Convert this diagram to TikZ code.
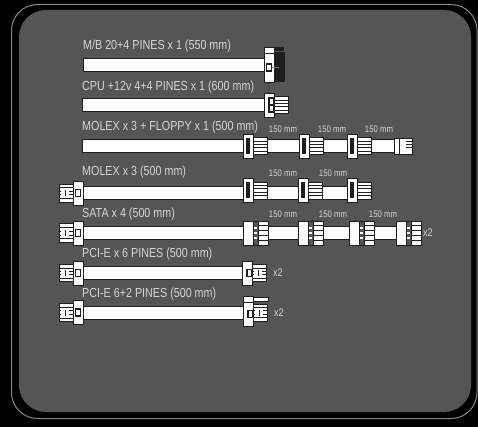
\documentclass[tikz,border=0pt]{standalone}
\usepackage{fontspec}
\setmainfont[FakeStretch=0.82]{Liberation Sans}
\usetikzlibrary{positioning, calc}

\definecolor{panelgrey}{HTML}{555555}
\definecolor{rimgrey}{HTML}{858585}
\definecolor{inkdark}{HTML}{1E1E1E}
\definecolor{labelgrey}{HTML}{D6D6D6}

% stripes of a pin block, used inside its path picture
\newcommand{\pinstripes}{
    \foreach \k in {0.2,0.4,0.6,0.8}
        \draw[inkdark, line width=0.7pt]
            ($(path picture bounding box.south west)!\k!(path picture bounding box.north west)$) --
            ($(path picture bounding box.south east)!\k!(path picture bounding box.north east)$);
}

\begin{document}
\begin{tikzpicture}[
        x=1pt, y=-1pt,
        part/.style={
            rectangle,
            draw=inkdark,
            fill=white,
            line width=0.8pt,
            inner sep=0pt,
            outer sep=0pt
        },
        cable/.style={part, minimum height=13pt},
        shell/.style={part, minimum width=10pt, minimum height=24pt},
        slotshell/.style={shell,
            path picture={
                \fill[inkdark] ($(path picture bounding box.center)+(-2pt,-8pt)$) rectangle ($(path picture bounding box.center)+(2pt,8pt)$);
            }
        },
        pinblock/.style={part, minimum width=14pt, minimum height=17pt,
            path picture={\pinstripes}
        },
        plugblock/.style={part, minimum width=14pt, minimum height=17pt,
            path picture={
                \pinstripes
                \fill[white] ($(path picture bounding box.center)+(-5pt,-3pt)$) rectangle ($(path picture bounding box.center)+(3pt,3pt)$);
                \draw[inkdark, line width=0.8pt] ($(path picture bounding box.center)+(-1pt,-3pt)$) -- ($(path picture bounding box.center)+(-1pt,3pt)$);
            }
        },
        satablock/.style={part, fill=white, minimum width=15pt, minimum height=24pt,
            path picture={
                \fill[panelgrey] ($(path picture bounding box.north west)$) rectangle ($(path picture bounding box.south west)+(5pt,0)$);
                \foreach \k in {0.2,0.4,0.6,0.8}
                    \draw[inkdark, line width=0.7pt]
                        ($(path picture bounding box.south west)!\k!(path picture bounding box.north west)+(5pt,0)$) --
                        ($(path picture bounding box.south east)!\k!(path picture bounding box.north east)$);
                \foreach \k in {0.3,0.5,0.7}
                    \draw[white, line width=1.8pt]
                        ($(path picture bounding box.south west)!\k!(path picture bounding box.north west)+(1pt,0)$) --
                        ($(path picture bounding box.south west)!\k!(path picture bounding box.north west)+(4pt,0)$);
                \draw[inkdark, line width=0.8pt] ($(path picture bounding box.north west)+(5pt,0)$) -- ($(path picture bounding box.south west)+(5pt,0)$);
            }
        },
        notch/.style={part, minimum width=5pt, minimum height=7pt, line width=1.1pt},
        blackpart/.style={rectangle, fill=inkdark, inner sep=0pt, outer sep=0pt},
        titlelabel/.style={anchor=west, inner sep=0pt, font=\fontsize{13.1}{14}\selectfont, text=labelgrey},
        lenlabel/.style={inner sep=0pt, font=\fontsize{9.5}{10}\selectfont, text=labelgrey},
        countlabel/.style={anchor=west, inner sep=0pt, font=\fontsize{11}{12}\selectfont, text=labelgrey}
    ]

    % Frame
    \useasboundingbox (0,0) rectangle (478,427);
    \fill[black] (0,0) rectangle (478,427);
    \draw[rimgrey, line width=1pt, rounded corners=26pt] (11.5,4.5) rectangle (477,418.5);
    \fill[panelgrey, rounded corners=27pt] (19,10) rectangle (471,412);

    % M/B
    \node[titlelabel] (mblabel) at (83,46) {M/B 20+4 PINES x 1 (550 mm)};
    \node[cable, anchor=west, minimum width=181pt] (mbcable) at (83,64.5) {};
    \node[blackpart, minimum width=11pt, minimum height=30pt, right=10pt of mbcable, yshift=-3pt] (mbblock) {};
    \node[shell, minimum height=29pt, right=0pt of mbcable, yshift=-3pt] (mbshell) {};
    \node[part, minimum width=10pt, minimum height=6pt, above=0pt of mbshell] (mblatch) {};
    \node[blackpart, minimum width=10pt, minimum height=4pt, right=0pt of mblatch, yshift=1pt] (mbtab) {};
    \node[notch, at={(mbshell.center)}] (mbnotch) {};
    \draw[rimgrey, line width=0.8pt] (mbnotch.east) -- ++(7,0) coordinate (mbdash);

    % CPU
    \node[titlelabel] (cpulabel) at (82,87) {CPU +12v 4+4 PINES x 1 (600 mm)};
    \node[cable, anchor=west, minimum width=182pt] (cpucable) at (82,105) {};
    \node[shell, right=0pt of cpucable] (cpushell) {};
    \node[pinblock, right=0pt of cpushell] (cpupins) {};
    \node[notch, at={(cpushell.east)}, xshift=-2.5pt, yshift=3.5pt] (cpunotcha) {};
    \node[notch, at={(cpushell.east)}, xshift=-2.5pt, yshift=-3.5pt] (cpunotchb) {};

    % MOLEX + FLOPPY
    \node[titlelabel] (mxflabel) at (82,127) {MOLEX x 3 + FLOPPY x 1 (500 mm)};
    \node[cable, anchor=west, minimum width=161pt] (mxfcable) at (82,146) {};
    \node[slotshell, right=0pt of mxfcable] (mxfa) {};
    \node[pinblock, right=0pt of mxfa] (mxfpinsa) {};
    \node[cable, minimum width=32pt, right=0pt of mxfpinsa] (mxfcableb) {};
    \node[slotshell, right=0pt of mxfcableb] (mxfb) {};
    \node[pinblock, right=0pt of mxfb] (mxfpinsb) {};
    \node[cable, minimum width=24pt, right=0pt of mxfpinsb] (mxfcablec) {};
    \node[slotshell, right=0pt of mxfcablec] (mxfc) {};
    \node[pinblock, right=0pt of mxfc] (mxfpinsc) {};
    \node[cable, minimum width=23pt, right=0pt of mxfpinsc] (mxfcabled) {};
    \node[part, minimum width=5pt, minimum height=16pt, right=0pt of mxfcabled] (floppyshell) {};
    \node[part, minimum width=13pt, minimum height=16pt, right=0pt of floppyshell] (floppypins) {};
    \foreach \k in {-5,-2,1}
        \draw[inkdark, line width=0.9pt] ($(floppypins.center)+(0,\k)$) -- ($(floppypins.east)+(0,\k)$);
    \node[lenlabel] (mxflena) at (283,129) {150 mm};
    \node[lenlabel] (mxflenb) at (332,129) {150 mm};
    \node[lenlabel] (mxflenc) at (379,129) {150 mm};

    % MOLEX
    \node[titlelabel] (mxlabel) at (82,172) {MOLEX x 3 (500 mm)};
    \node[plugblock, minimum height=18pt, anchor=west] (mxpinsl) at (59,193) {};
    \node[shell, right=0pt of mxpinsl] (mxshelll) {};
    \node[notch, at={(mxshelll.center)}] (mxnotch) {};
    \node[cable, minimum width=160pt, right=0pt of mxshelll] (mxcable) {};
    \node[slotshell, right=0pt of mxcable, yshift=2.5pt] (mxa) {};
    \node[pinblock, right=0pt of mxa] (mxpinsa) {};
    \node[cable, minimum width=31pt, right=0pt of mxpinsa, yshift=-2.5pt] (mxcableb) {};
    \node[slotshell, right=0pt of mxcableb, yshift=2.5pt] (mxb) {};
    \node[pinblock, right=0pt of mxb] (mxpinsb) {};
    \node[cable, minimum width=25pt, right=0pt of mxpinsb, yshift=-2.5pt] (mxcablec) {};
    \node[slotshell, right=0pt of mxcablec, yshift=2.5pt] (mxc) {};
    \node[pinblock, right=0pt of mxc] (mxpinsc) {};
    \node[lenlabel] (mxlena) at (283,173) {150 mm};
    \node[lenlabel] (mxlenb) at (333,173) {150 mm};

    % SATA
    \node[titlelabel] (satalabel) at (82,214) {SATA x 4 (500 mm)};
    \node[plugblock, minimum height=19pt, anchor=west] (satapinsl) at (59,233) {};
    \node[shell, right=0pt of satapinsl] (satashelll) {};
    \node[notch, at={(satashelll.center)}] (satanotch) {};
    \node[cable, minimum width=160pt, right=0pt of satashelll] (satacable) {};
    \node[shell, right=0pt of satacable] (sataa) {};
    \node[satablock, right=0pt of sataa] (satapa) {};
    \node[cable, minimum width=30pt, right=0pt of satapa] (satacableb) {};
    \node[shell, right=0pt of satacableb] (satab) {};
    \node[satablock, right=0pt of satab] (satapb) {};
    \node[cable, minimum width=26pt, right=0pt of satapb] (satacablec) {};
    \node[shell, right=0pt of satacablec] (satac) {};
    \node[satablock, right=0pt of satac] (satapc) {};
    \node[cable, minimum width=22pt, right=0pt of satapc] (satacabled) {};
    \node[shell, right=0pt of satacabled] (satad) {};
    \node[satablock, right=0pt of satad] (satapd) {};
    \node[countlabel, right=2pt of satapd] (satacount) {x2};
    \node[lenlabel] (satalena) at (283,214) {150 mm};
    \node[lenlabel] (satalenb) at (333,214) {150 mm};
    \node[lenlabel] (satalenc) at (383,214) {150 mm};

    % PCI-E 6
    \node[titlelabel] (pcilabel) at (82,254) {PCI-E x 6 PINES (500 mm)};
    \node[plugblock, anchor=west] (pcipinsl) at (59,273) {};
    \node[shell, right=0pt of pcipinsl] (pcishelll) {};
    \node[notch, at={(pcishelll.center)}] (pcinotchl) {};
    \node[cable, minimum width=159pt, right=0pt of pcishelll] (pcicable) {};
    \node[shell, right=0pt of pcicable] (pcishellr) {};
    \node[plugblock, right=0pt of pcishellr] (pcipinsr) {};
    \node[notch, at={(pcishellr.east)}, xshift=-2.5pt] (pcinotchr) {};
    \node[countlabel, right=7pt of pcipinsr] (pcicount) {x2};

    % PCI-E 6+2
    \node[titlelabel] (pcpluslabel) at (82,294) {PCI-E 6+2 PINES (500 mm)};
    \node[plugblock, minimum height=18pt, anchor=west] (pcppinsl) at (59,312.5) {};
    \node[shell, right=0pt of pcppinsl] (pcpshelll) {};
    \node[notch, at={(pcpshelll.center)}] (pcpnotchl) {};
    \node[cable, minimum width=160pt, right=0pt of pcpshelll] (pcpcable) {};
    \node[shell, right=0pt of pcpcable, yshift=-1.5pt] (pcpshellr) {};
    \node[part, minimum width=10pt, minimum height=6pt, above=0pt of pcpshellr] (pcplatch) {};
    \node[part, minimum width=15pt, minimum height=4pt, right=0pt of pcplatch] (pcptab) {};
    \node[plugblock, right=0pt of pcpshellr, yshift=1.5pt] (pcppinsr) {};
    \node[notch, at={(pcpshellr.east)}, xshift=-2.5pt] (pcpnotchr) {};
    \node[countlabel, right=7pt of pcppinsr] (pcpcount) {x2};
\end{tikzpicture}
\end{document}
